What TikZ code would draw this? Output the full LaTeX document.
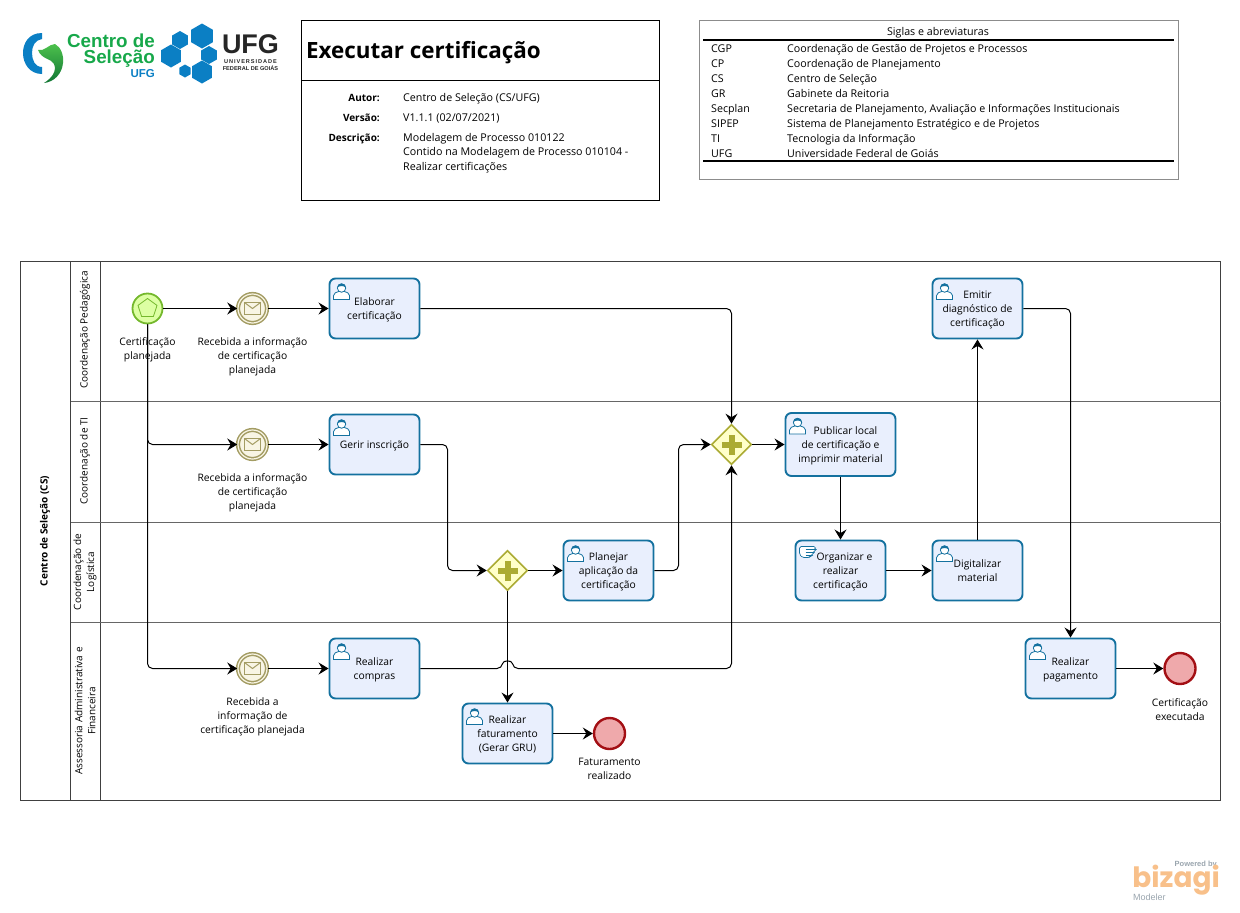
\documentclass[tikz,border=0pt]{standalone}
\usepackage{fontspec}
\setmainfont{Open Sans}
\newfontfamily\logofont{Liberation Sans}
\newfontfamily\bizfont{Poppins}
\usepackage{tikz}
\usetikzlibrary{positioning}
\usetikzlibrary{arrows.meta,shapes.geometric}
\definecolor{taskfill}{HTML}{E9EFFD}
\definecolor{taskline}{HTML}{14719F}
\definecolor{startfill}{HTML}{DDFFA3}
\definecolor{startline}{HTML}{74B82C}
\definecolor{msgfill}{HTML}{F8F5E4}
\definecolor{msgline}{HTML}{A39C63}
\definecolor{gatefill}{HTML}{FFFFC9}
\definecolor{gateline}{HTML}{ABAB33}
\definecolor{endfill}{HTML}{EFA9AB}
\definecolor{endline}{HTML}{A30F14}
\definecolor{ufgblue}{HTML}{0B7FC4}
\definecolor{csgreen}{HTML}{17A84A}
\definecolor{bizorange}{HTML}{F8C08A}
\definecolor{bizgray}{HTML}{9AA5AE}
\tikzset{
    task/.style = {draw=taskline, fill=taskfill, line width=1.9pt, rounded corners=6pt, minimum width=90pt, minimum height=60pt, inner sep=0pt, align=center, text depth=0pt, font=\fontsize{10.3}{14}\selectfont},
    startev/.style = {draw=startline, fill=startfill, circle, line width=1.8pt, minimum size=30pt, inner sep=0pt},
    msgev/.style = {draw=msgline, fill=msgfill, circle, line width=1.5pt, double=msgfill, double distance=1.2pt, minimum size=29pt, inner sep=0pt},
    endev/.style = {draw=endline, fill=endfill, circle, line width=2.4pt, minimum size=31pt, inner sep=0pt},
    gate/.style = {draw=gateline, fill=gatefill, diamond, aspect=1, line width=1.6pt, minimum width=40pt, minimum height=40pt, inner sep=0pt},
    evlabel/.style = {align=center, inner sep=0pt, font=\fontsize{10.3}{14}\selectfont},
    lanelabel/.style = {rotate=90, align=center, inner sep=0pt, font=\fontsize{10}{13}\selectfont},
    field/.style = {inner sep=0pt, text height=8pt, text depth=2pt, font=\fontsize{10.7}{14}\selectfont},
    logotext/.style = {inner sep=0pt, align=right},
    flow/.style = {draw=black, line width=1pt, rounded corners=5pt, -{Stealth[length=10pt,width=12pt,inset=3.5pt]}},
    usericon/.pic = {
        \draw[taskline, fill=white, line width=.8pt] (-8,8) -- (-8,4) .. controls (-8,1) and (-5,1) .. (-3,0) -- (3,0) .. controls (5,1) and (8,1) .. (8,4) -- (8,8) -- cycle;
        \draw[taskline, fill=white, line width=.8pt] (0,-3.5) circle (4.2);
        \fill[taskline] (-4.4,-4) .. controls (-4.4,-9.5) and (4.4,-9.5) .. (4.4,-4) .. controls (2,-6) and (-2,-6) .. (-4.4,-4) -- cycle;
    },
    handicon/.pic = {
        \draw[taskline, fill=white, line width=.7pt, rounded corners=1.5pt] (-8,-5) -- (8,-5) -- (8,-2) -- (7,-2) -- (7,1) -- (5,1) -- (5,4) -- (3,4) -- (2,6) -- (-5,6) -- (-8,3) -- cycle;
        \draw[taskline, line width=.6pt] (-2,-2) -- (7,-2) (-2,1) -- (5,1) (-2,4) -- (3,4);
    },
    plusicon/.pic = {
        \fill[gateline] (-3,-10) rectangle (3,10);
        \fill[gateline] (-10,-3) rectangle (10,3);
    },
}
\begin{document}
\begin{tikzpicture}[x=1pt, y=-1pt]
            \useasboundingbox (0,0) rectangle (1240,913);
            % Logos
            \fill[ufgblue] (42,33) .. controls (28,33) and (23,44) .. (23,53) .. controls (23,64) and (30,74) .. (42,74) -- (42,67) .. controls (35,67) and (32,60) .. (32,53) .. controls (32,46) and (35,40) .. (42,39) -- cycle;
            \shade[top color=green!65!black!70, bottom color=csgreen!70!black] (38,50) .. controls (44,52) and (49,44) .. (55,44) .. controls (61,47) and (64,56) .. (63,63) .. controls (62,74) and (54,82) .. (44,83) .. controls (52,78) and (57,71) .. (54,64) .. controls (51,58) and (42,60) .. (38,50) -- cycle;
            \node[logotext, text=csgreen, anchor=east, font=\logofont\bfseries\fontsize{18.8}{15.5}\selectfont] (csname) at (155,50.5) {Centro de\\Seleção};
            \node[logotext, text=ufgblue, anchor=east, font=\logofont\bfseries\fontsize{11.5}{11.5}\selectfont] (csufg) at (155,73.5) {UFG};
            \foreach \hx/\hy/\hr in {202/36/12.5, 180/40/9, 171/56/11.5, 209/55/9, 185/71/6.5, 202/72/11.5}
                \fill[ufgblue] (\hx,\hy) +(90:\hr) -- +(150:\hr) -- +(210:\hr) -- +(270:\hr) -- +(330:\hr) -- +(30:\hr) -- cycle;
            \node[logotext, text=black!85, font=\logofont\bfseries\fontsize{27}{27}\selectfont] (ufgname) at (250.5,44) {UFG};
            \node[logotext, text=black!85, font=\logofont\bfseries\fontsize{5.6}{6}\selectfont] (ufglong) at (250.5,61.5) {U\,N\,I\,V\,E\,R\,S\,I\,D\,A\,D\,E};
            \node[logotext, text=black!85, font=\logofont\bfseries\fontsize{5.6}{6}\selectfont] (ufgstate) at (250.5,68.5) {FEDERAL DE GOIÁS};
            \node[logotext, anchor=east, text=bizgray, font=\logofont\bfseries\fontsize{7.5}{7.5}\selectfont] (powered) at (1217,865) {Powered by};
            \node[logotext, anchor=east, text=bizorange, font=\bizfont\bfseries\fontsize{28}{28}\selectfont] (bizagi) at (1220,880) {bizagi};
            \node[logotext, anchor=west, text=bizgray, font=\logofont\fontsize{9}{9}\selectfont] (modeler) at (1133,897.5) {Modeler};
            % Title box
            \draw[black, line width=.8pt] (301.5,20.5) rectangle (659.5,200.5);
            \draw[black, line width=.8pt] (301.5,80.5) -- (659.5,80.5);
            \node[inner sep=0pt, anchor=west, font=\bfseries\fontsize{22.4}{26}\selectfont] (title) at (306,53) {Executar certificação};
            \node[field, anchor=east, font=\bfseries\fontsize{10}{14}\selectfont] (autorkey) at (380,98) {Autor:};
            \node[field, anchor=east, font=\bfseries\fontsize{10}{14}\selectfont] (versaokey) at (380,118) {Versão:};
            \node[field, anchor=east, font=\bfseries\fontsize{10}{14}\selectfont] (descrkey) at (380,138) {Descrição:};
            \node[field, anchor=west] (autorval) at (403,98) {Centro de Seleção (CS/UFG)};
            \node[field, anchor=west] (versaoval) at (403,118) {V1.1.1 (02/07/2021)};
            \node[field, anchor=north west, text height=, text depth=, align=left, font=\fontsize{10.7}{14.5}\selectfont] (descrval) at (403,133) {Modelagem de Processo 010122\\Contido na Modelagem de Processo 010104 -\\Realizar certificações};
            % Abbreviations
            \draw[black!45, line width=.8pt] (699.5,20.5) rectangle (1178.5,179.5);
            \node[field] (siglas) at (938,32) {Siglas e abreviaturas};
            \draw[black, line width=1.6pt] (703,40) -- (1174,40);
            \draw[black, line width=1.6pt] (703,161) -- (1174,161);
            \foreach \sigla/\nome [count=\i] in {CGP/Coordenação de Gestão de Projetos e Processos, CP/Coordenação de Planejamento, CS/Centro de Seleção, GR/Gabinete da Reitoria, Secplan/{Secretaria de Planejamento, Avaliação e Informações Institucionais}, SIPEP/Sistema de Planejamento Estratégico e de Projetos, TI/Tecnologia da Informação, UFG/Universidade Federal de Goiás} {
                \node[field, anchor=west] (sigla\i) at (711,{34+15*\i}) {\sigla};
                \node[field, anchor=west] (nome\i) at (787,{34+15*\i}) {\nome};
            }
            % Pool and lanes
            \draw[black!75, line width=.8pt] (20.5,261.5) rectangle (1220.5,800.5);
            \draw[black!75, line width=.8pt] (70.5,261.5) -- (70.5,800.5);
            \draw[black!75, line width=.8pt] (100.5,261.5) -- (100.5,800.5);
            \foreach \laney in {401.5,522,622}
                \draw[black!60, line width=1pt] (70.5,\laney) -- (1220.5,\laney);
            \node[lanelabel, font=\bfseries\fontsize{10}{13}\selectfont] (pool) at (45,531) {Centro de Seleção (CS)};
            \node[lanelabel] (lanepeda) at (85,330) {Coordenação Pedagógica};
            \node[lanelabel] (laneti) at (85,461) {Coordenação de TI};
            \node[lanelabel] (lanelog) at (85,572) {Coordenação de\\Logística};
            \node[lanelabel] (laneadm) at (85,711) {Assessoria Administrativa e\\Financeira};
            % Nodes
            \node[startev] (start) at (147.5,308.5) {};
            \node[msgev] (msgpeda) [right of=start, node distance=105pt] {};
            \node[task] (elaborar) [right of=msgpeda, node distance=122pt] {Elaborar\\certificação};
            \node[msgev] (msgti) [below of=msgpeda, node distance=136pt] {};
            \node[task] (gerir) [right of=msgti, node distance=122pt] {Gerir inscrição};
            \node[msgev] (msgadm) [below of=msgti, node distance=224pt] {};
            \node[task] (compras) [right of=msgadm, node distance=122pt] {Realizar\\compras};
            \node[gate] (gatelog) [right of=gerir, node distance=133pt, yshift=-126pt] {};
            \node[task] (planejar) [right of=gatelog, node distance=101pt] {Planejar\\aplicação da\\certificação};
            \node[task] (faturar) [below of=gatelog, node distance=163pt] {Realizar\\faturamento\\(Gerar GRU)};
            \node[endev] (endfat) [right of=faturar, node distance=102pt] {};
            \node[gate] (gateti) [right of=gerir, node distance=357pt] {};
            \node[task, minimum width=110pt, minimum height=63pt] (publicar) [right of=gateti, node distance=109pt] {\hspace*{10pt}Publicar local\\de certificação e\\imprimir material};
            \node[task] (organizar) [below of=publicar, node distance=126pt] {\hspace*{8pt}Organizar e\\realizar\\certificação};
            \node[task] (digitalizar) [right of=organizar, node distance=137pt] {Digitalizar\\material};
            \node[task] (emitir) [above of=digitalizar, node distance=262pt] {Emitir\\diagnóstico de\\certificação};
            \node[task] (pagar) [right of=emitir, node distance=93pt, yshift=-360pt] {Realizar\\pagamento};
            \node[endev] (endcert) [right of=pagar, node distance=109.5pt] {};
            % Labels
            \node[evlabel] (startlabel) [below of=start, node distance=41pt] {Certificação\\planejada};
            \node[evlabel] (msgpedalabel) [below of=msgpeda, node distance=48pt] {Recebida a informação\\de certificação\\planejada};
            \node[evlabel] (msgtilabel) [below of=msgti, node distance=48pt] {Recebida a informação\\de certificação\\planejada};
            \node[evlabel] (msgadmlabel) [below of=msgadm, node distance=48pt] {Recebida a\\informação de\\certificação planejada};
            \node[evlabel] (endfatlabel) [below of=endfat, node distance=35pt] {Faturamento\\realizado};
            \node[evlabel] (endcertlabel) [below of=endcert, node distance=41pt] {Certificação\\executada};
            % Icons
            \draw[startline, line width=.8pt] (start.center) +(270:10) -- +(342:10) -- +(54:10) -- +(126:10) -- +(198:10) -- cycle;
            \foreach \msgname in {msgpeda,msgti,msgadm} {
                \draw[msgline, fill=msgfill, line width=1pt] ([shift={(-8,-6)}]\msgname.center) rectangle ([shift={(8,6)}]\msgname.center);
                \draw[msgline, line width=1pt] ([shift={(-8,-6)}]\msgname.center) -- (\msgname.center) -- ([shift={(8,-6)}]\msgname.center);
            }
            \foreach \gatename in {gatelog,gateti}
                \pic at (\gatename.center) {plusicon};
            \foreach \taskname in {elaborar,gerir,compras,planejar,faturar,publicar,digitalizar,emitir,pagar}
                \pic at ([shift={(13,14)}]\taskname.north west) {usericon};
            \pic at ([shift={(13,12)}]organizar.north west) {handicon};
            % Edges
            \coordinate (gerirbend) at (447.5,444.5);
            \coordinate (planejarbend) at (678.5,570.5);
            \coordinate (jumpstart) at (502,668.5);
            \coordinate (jumpend) at (513,668.5);
            \draw[flow] (start) -- (msgpeda);
            \draw[flow] (msgpeda) -- (elaborar);
            \draw[flow] (start) |- (msgti);
            \draw[flow] (msgti) -- (gerir);
            \draw[flow] (start) |- (msgadm);
            \draw[flow] (msgadm) -- (compras);
            \draw[flow] (elaborar) -| (gateti);
            \draw[flow] (gerir) -- (gerirbend) |- (gatelog);
            \draw[flow] (gatelog) -- (planejar);
            \draw[flow] (gatelog) -- (faturar);
            \draw[flow] (faturar) -- (endfat);
            \draw[flow] (planejar) -- (planejarbend) |- (gateti);
            \draw[flow] (compras) -- (jumpstart) .. controls (503,660) and (512,660) .. (jumpend) -| (gateti);
            \draw[flow] (gateti) -- (publicar);
            \draw[flow] (publicar) -- (organizar);
            \draw[flow] (organizar) -- (digitalizar);
            \draw[flow] (digitalizar) -- (emitir);
            \draw[flow] (emitir) -| (pagar);
            \draw[flow] (pagar) -- (endcert);
\end{tikzpicture}
\end{document}
